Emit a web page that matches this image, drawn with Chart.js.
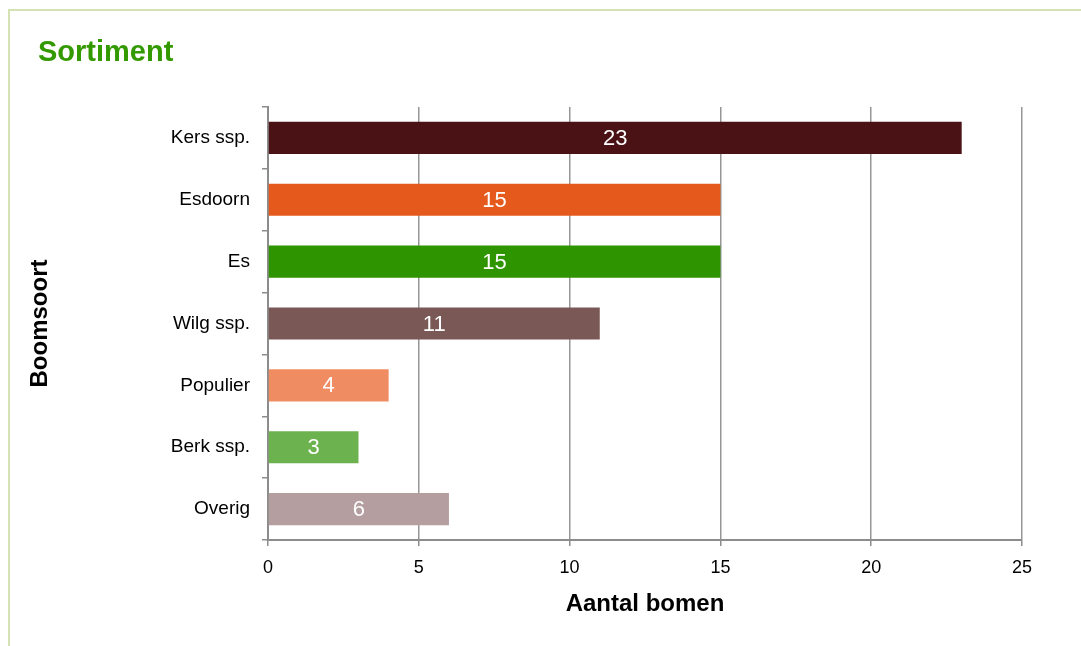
<!DOCTYPE html>
<html>
<head>
<meta charset="utf-8">
<script src="https://cdn.jsdelivr.net/npm/chart.js@4/dist/chart.umd.min.js"></script>
<style>
  html, body { margin: 0; padding: 0; background: #fff; }
  #wrap { position: relative; width: 1081px; height: 646px; overflow: hidden; }
  #frame {
    position: absolute; left: 8px; top: 9px; width: 1100px; height: 700px;
    border-left: 2px solid #d5e3b3; border-top: 2px solid #d5e3b3;
  }
  #title {
    position: absolute; left: 38px; top: 35px;
    font: bold 29px "Liberation Sans", Arial, sans-serif; color: #339900;
  }
  #chart { position: absolute; left: 0; top: 0; }
</style>
</head>
<body>
<div id="wrap">
  <div id="frame"></div>
  <canvas id="chart" width="1081" height="646"></canvas>
  <div id="title">Sortiment</div>
</div>
<script>
// data
const categories = ["Kers ssp.", "Esdoorn", "Es", "Wilg ssp.", "Populier", "Berk ssp.", "Overig"];
const counts = [23, 15, 15, 11, 4, 3, 6];
const barColors = ["#4a1214", "#e55a1c", "#2e9400", "#7a5856", "#f08c62", "#6cb24f", "#b49ea0"];
const xTicks = [0, 5, 10, 15, 20, 25];

const FONT = '"Liberation Sans", Arial, sans-serif';

// white value labels in the middle of each bar
const barLabels = {
  id: "barLabels",
  afterDraw(chart) {
    const ctx = chart.ctx;
    const meta = chart.getDatasetMeta(0);
    ctx.save();
    ctx.fillStyle = "#ffffff";
    ctx.font = "22px " + FONT;
    ctx.textAlign = "center";
    ctx.textBaseline = "middle";
    meta.data.forEach((bar, i) => {
      const mid = (bar.x + bar.base) / 2;
      ctx.fillText(String(counts[i]), mid, bar.y + 1);
    });
    ctx.restore();
  }
};

new Chart(document.getElementById("chart").getContext("2d"), {
  type: "bar",
  data: {
    labels: categories,
    datasets: [{
      data: counts,
      backgroundColor: barColors,
      barPercentage: 0.52,
      categoryPercentage: 1
    }]
  },
  options: {
    indexAxis: "y",
    responsive: false,
    animation: false,
    layout: { padding: { left: 22, top: 107, right: 59, bottom: 26 } },
    plugins: { legend: { display: false }, tooltip: { enabled: false }, title: { display: false } },
    scales: {
      x: {
        min: 0,
        max: 25,
        z: 1,
        afterFit(scale) { scale.height = 80; },
        afterBuildTicks(scale) { scale.ticks = xTicks.map(v => ({ value: v })); },
        ticks: { color: "#000", padding: 11, font: { family: FONT, size: 18 } },
        grid: { color: "rgba(80,80,80,0.6)", lineWidth: 1.5, tickLength: 6, tickColor: "#8c8c8c" },
        border: { color: "#8c8c8c", width: 2 },
        title: {
          display: true, text: "Aantal bomen", color: "#000",
          font: { family: FONT, size: 24, weight: "bold" },
          padding: { top: 4, bottom: 1 }
        }
      },
      y: {
        afterFit(scale) { scale.width = 246; },
        ticks: { color: "#000", padding: 12, font: { family: FONT, size: 19 } },
        grid: { drawOnChartArea: false, tickLength: 6, color: "#8c8c8c", lineWidth: 1.5 },
        border: { color: "#8c8c8c", width: 2 },
        title: {
          display: true, text: "Boomsoort", color: "#000",
          font: { family: FONT, size: 24, weight: "bold" },
          padding: { top: 4, bottom: 4 }
        }
      }
    }
  },
  plugins: [barLabels]
});
</script>
</body>
</html>
